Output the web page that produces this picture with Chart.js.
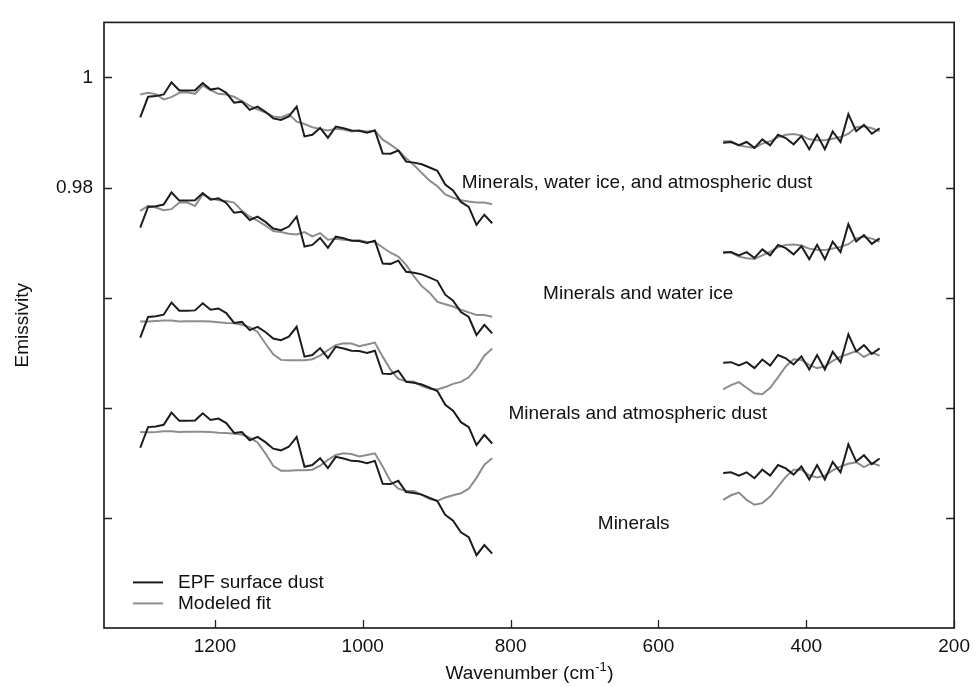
<!DOCTYPE html>
<html>
<head>
<meta charset="utf-8">
<script src="https://cdn.jsdelivr.net/npm/chart.js@4.4.1/dist/chart.umd.min.js"></script>
<style>
  html, body { margin: 0; padding: 0; background: #ffffff; }
  #wrap { width: 977px; height: 687px; }
</style>
</head>
<body>
<div id="wrap"><canvas id="chart" width="977" height="687"></canvas></div>
<script>
// Spectral channels (cm-1): the short-wave band and the long-wave band
const wavenumbersLow = [1301.0, 1290.4, 1279.8, 1269.3, 1258.7, 1248.1, 1237.5, 1226.9, 1216.4, 1205.8,
  1195.2, 1184.6, 1174.0, 1163.5, 1152.9, 1142.3, 1131.7, 1121.1, 1110.6, 1100.0,
  1089.4, 1078.8, 1068.2, 1057.7, 1047.1, 1036.5, 1025.9, 1015.3, 1004.8, 994.2,
  983.6, 973.0, 962.4, 951.9, 941.3, 930.7, 920.1, 909.5, 899.0, 888.4,
  877.8, 867.2, 856.6, 846.1, 835.5, 824.9];
const wavenumbersHigh = [512.4, 501.8, 491.2, 480.7, 470.1, 459.5, 448.9, 438.3, 427.8, 417.2,
  406.6, 396.0, 385.4, 374.9, 364.3, 353.7, 343.1, 332.5, 322.0, 311.4, 300.8];

// EPF surface dust emissivity spectrum
const dustLow = [0.99274, 0.99649, 0.99661, 0.99691, 0.99911, 0.99763, 0.99763, 0.99769, 0.99899, 0.99780,
  0.99804, 0.99721, 0.99542, 0.99560, 0.99411, 0.99471, 0.99376, 0.99257, 0.99227, 0.99292,
  0.99471, 0.98929, 0.98959, 0.99084, 0.98905, 0.99108, 0.99078, 0.99036, 0.99030, 0.98995,
  0.99036, 0.98620, 0.98614, 0.98673, 0.98471, 0.98453, 0.98423, 0.98364, 0.98304, 0.98054,
  0.97947, 0.97739, 0.97649, 0.97322, 0.97507, 0.97352];
const dustHigh = [0.98816, 0.98828, 0.98768, 0.98828, 0.98721, 0.98876, 0.98768, 0.98959, 0.98899, 0.98786,
  0.98935, 0.98697, 0.98959, 0.98697, 0.99018, 0.98828, 0.99334, 0.99024, 0.99138, 0.98977, 0.99078];

// Modeled fits, one per end-member set
const fitIceDustLow = [0.99691, 0.99721, 0.99697, 0.99602, 0.99643, 0.99721, 0.99733, 0.99703, 0.99852, 0.99769,
  0.99703, 0.99691, 0.99649, 0.99572, 0.99483, 0.99423, 0.99364, 0.99292, 0.99274, 0.99334,
  0.99197, 0.99155, 0.99096, 0.99066, 0.99036, 0.99066, 0.99054, 0.99018, 0.99036, 0.99018,
  0.99036, 0.98870, 0.98780, 0.98679, 0.98530, 0.98411, 0.98263, 0.98126, 0.98025, 0.97876,
  0.97816, 0.97769, 0.97745, 0.97727, 0.97727, 0.97697];
const fitIceDustHigh = [0.98840, 0.98840, 0.98768, 0.98739, 0.98721, 0.98798, 0.98840, 0.98917, 0.98959, 0.98971,
  0.98947, 0.98876, 0.98858, 0.98858, 0.98888, 0.98917, 0.98977, 0.99096, 0.99114, 0.99078, 0.99024];

const fitIceLow = [0.99578, 0.99667, 0.99638, 0.99590, 0.99608, 0.99727, 0.99727, 0.99667, 0.99876, 0.99804,
  0.99769, 0.99757, 0.99727, 0.99578, 0.99471, 0.99399, 0.99310, 0.99209, 0.99191, 0.99161,
  0.99149, 0.99191, 0.99114, 0.99173, 0.99054, 0.99072, 0.99054, 0.99042, 0.99042, 0.99013,
  0.99013, 0.98911, 0.98816, 0.98745, 0.98596, 0.98388, 0.98209, 0.98090, 0.97923, 0.97882,
  0.97840, 0.97780, 0.97733, 0.97685, 0.97685, 0.97655];
const fitIceHigh = [0.98834, 0.98822, 0.98745, 0.98715, 0.98703, 0.98768, 0.98834, 0.98917, 0.98959, 0.98965,
  0.98947, 0.98888, 0.98870, 0.98864, 0.98894, 0.98923, 0.98971, 0.99078, 0.99108, 0.99072, 0.99018];

const fitDustLow = [0.99566, 0.99566, 0.99578, 0.99584, 0.99584, 0.99566, 0.99572, 0.99572, 0.99572, 0.99566,
  0.99554, 0.99542, 0.99536, 0.99507, 0.99465, 0.99376, 0.99167, 0.98971, 0.98870, 0.98864,
  0.98864, 0.98864, 0.98882, 0.98947, 0.99048, 0.99138, 0.99173, 0.99167, 0.99120, 0.99149,
  0.99185, 0.98929, 0.98691, 0.98524, 0.98483, 0.98471, 0.98393, 0.98346, 0.98334, 0.98376,
  0.98435, 0.98471, 0.98554, 0.98721, 0.98947, 0.99078];
const fitDustHigh = [0.98334, 0.98411, 0.98465, 0.98364, 0.98263, 0.98245, 0.98364, 0.98554, 0.98751, 0.98882,
  0.98870, 0.98780, 0.98721, 0.98751, 0.98852, 0.98929, 0.98977, 0.99030, 0.98923, 0.99001, 0.98947];

const fitMineralLow = [0.99560, 0.99554, 0.99560, 0.99572, 0.99572, 0.99560, 0.99566, 0.99566, 0.99566, 0.99560,
  0.99548, 0.99542, 0.99530, 0.99513, 0.99459, 0.99370, 0.99173, 0.98947, 0.98858, 0.98858,
  0.98864, 0.98864, 0.98876, 0.98947, 0.99054, 0.99143, 0.99173, 0.99161, 0.99114, 0.99143,
  0.99173, 0.98935, 0.98667, 0.98530, 0.98489, 0.98489, 0.98417, 0.98340, 0.98310, 0.98370,
  0.98411, 0.98447, 0.98530, 0.98727, 0.98965, 0.99084];
const fitMineralHigh = [0.98328, 0.98411, 0.98459, 0.98328, 0.98239, 0.98268, 0.98388, 0.98566, 0.98745, 0.98876,
  0.98876, 0.98774, 0.98733, 0.98768, 0.98864, 0.98935, 0.98983, 0.99012, 0.98923, 0.98995, 0.98947];

// Panels, stacked from top to bottom with a vertical offset for clarity
const panelNames = ['Minerals, water ice, and atmospheric dust', 'Minerals and water ice',
  'Minerals and atmospheric dust', 'Minerals'];
const panelOffsets = [0, 0.02, 0.04, 0.06];
const panelFitsLow = [fitIceDustLow, fitIceLow, fitDustLow, fitMineralLow];
const panelFitsHigh = [fitIceDustHigh, fitIceHigh, fitDustHigh, fitMineralHigh];
const labelWavenumber = [866, 756, 803, 682];
const labelEmissivity = [0.9808, 0.9607, 0.9389, 0.9189];

const seriesNames = ['EPF surface dust', 'Modeled fit'];
const xTickValues = [1200, 1000, 800, 600, 400, 200];
const yTickValues = [0.92, 0.94, 0.96, 0.98, 1.00];
const yTickText = ['', '', '', '0.98', '1'];

const BLACK = '#1c1c1c';
const GRAY = '#8d8d8d';
const FONT = '"Liberation Sans", Arial, Helvetica, sans-serif';

function toPoints(low, high, offset) {
  const pts = low.map((v, i) => ({ x: wavenumbersLow[i], y: v - offset }));
  pts.push({ x: (wavenumbersLow[wavenumbersLow.length - 1] + wavenumbersHigh[0]) / 2, y: null });
  high.forEach((v, i) => pts.push({ x: wavenumbersHigh[i], y: v - offset }));
  return pts;
}

const datasets = [];
panelOffsets.forEach((off, k) => {
  datasets.push({
    label: seriesNames[0], data: toPoints(dustLow, dustHigh, off),
    borderColor: BLACK, borderWidth: 2, order: 0
  });
  datasets.push({
    label: seriesNames[1], data: toPoints(panelFitsLow[k], panelFitsHigh[k], off),
    borderColor: GRAY, borderWidth: 2, order: 1
  });
});

const decorations = {
  id: 'decorations',
  afterDraw(chart) {
    const { ctx, chartArea: a, scales: { x, y } } = chart;
    ctx.save();
    // frame
    ctx.strokeStyle = '#222';
    ctx.lineWidth = 1.7;
    ctx.strokeRect(a.left, a.top, a.right - a.left, a.bottom - a.top);
    // inward tick marks
    ctx.lineWidth = 1.3;
    ctx.beginPath();
    yTickValues.forEach(v => {
      const py = Math.round(y.getPixelForValue(v)) + 0.5;
      ctx.moveTo(a.left, py); ctx.lineTo(a.left + 8, py);
      ctx.moveTo(a.right, py); ctx.lineTo(a.right - 8, py);
    });
    xTickValues.forEach(v => {
      const px = Math.round(x.getPixelForValue(v)) + 0.5;
      ctx.moveTo(px, a.bottom); ctx.lineTo(px, a.bottom - 8);
    });
    ctx.stroke();

    // panel names
    ctx.fillStyle = '#111';
    ctx.font = '19px ' + FONT;
    ctx.textBaseline = 'middle';
    ctx.textAlign = 'left';
    panelNames.forEach((name, k) => {
      ctx.fillText(name, x.getPixelForValue(labelWavenumber[k]), y.getPixelForValue(labelEmissivity[k]));
    });

    // legend
    const lx = a.left + 29, ly = a.top + 560;
    [BLACK, GRAY].forEach((c, i) => {
      const yy = ly + i * 21;
      ctx.strokeStyle = c; ctx.lineWidth = 2;
      ctx.beginPath(); ctx.moveTo(lx, yy); ctx.lineTo(lx + 30, yy); ctx.stroke();
      ctx.fillText(seriesNames[i], lx + 45, yy);
    });

    // x-axis title with superscript
    const main = 'Wavenumber (cm', sup = '-1', tail = ')';
    ctx.font = '19px ' + FONT;
    const w1 = ctx.measureText(main).width, w3 = ctx.measureText(tail).width;
    ctx.font = '13px ' + FONT;
    const w2 = ctx.measureText(sup).width;
    const cx = (a.left + a.right) / 2, ty = 674;
    let sx = cx - (w1 + w2 + w3) / 2;
    ctx.textAlign = 'left';
    ctx.font = '19px ' + FONT;
    ctx.fillText(main, sx, ty);
    ctx.font = '13px ' + FONT;
    ctx.fillText(sup, sx + w1 + 0.5, ty - 7);
    ctx.font = '19px ' + FONT;
    ctx.fillText(tail, sx + w1 + w2 + 1, ty);
    ctx.restore();
  }
};

new Chart(document.getElementById('chart'), {
  type: 'line',
  data: { datasets },
  options: {
    responsive: false,
    devicePixelRatio: 1,
    animation: false,
    spanGaps: false,
    elements: { point: { radius: 0 }, line: { tension: 0, borderJoinStyle: 'miter', borderCapStyle: 'butt' } },
    layout: { padding: { top: 12, right: 18, bottom: 0, left: 0 } },
    plugins: { legend: { display: false }, tooltip: { enabled: false } },
    scales: {
      x: {
        type: 'linear', reverse: true, min: 200, max: 1350,
        grid: { display: false, drawTicks: false }, border: { display: false },
        afterBuildTicks: s => { s.ticks = xTickValues.map(v => ({ value: v })); },
        afterFit: s => { s.height = 59; },
        ticks: { padding: 7, color: '#111', font: { family: FONT, size: 19 }, maxRotation: 0,
          callback: v => String(v) }
      },
      y: {
        type: 'linear', min: 0.90, max: 1.01,
        grid: { display: false, drawTicks: false }, border: { display: false },
        afterBuildTicks: s => { s.ticks = yTickValues.map(v => ({ value: v })); },
        afterFit: s => { s.width = 104; },
        ticks: { padding: 11, color: '#111', font: { family: FONT, size: 19 },
          callback: (v) => { const i = yTickValues.findIndex(t => Math.abs(t - v) < 1e-9); return i >= 0 ? yTickText[i] : ''; } },
        title: { display: true, text: 'Emissivity', color: '#111', font: { family: FONT, size: 19 },
          padding: { top: 11, bottom: 0 } }
      }
    }
  },
  plugins: [decorations]
});
</script>
</body>
</html>
